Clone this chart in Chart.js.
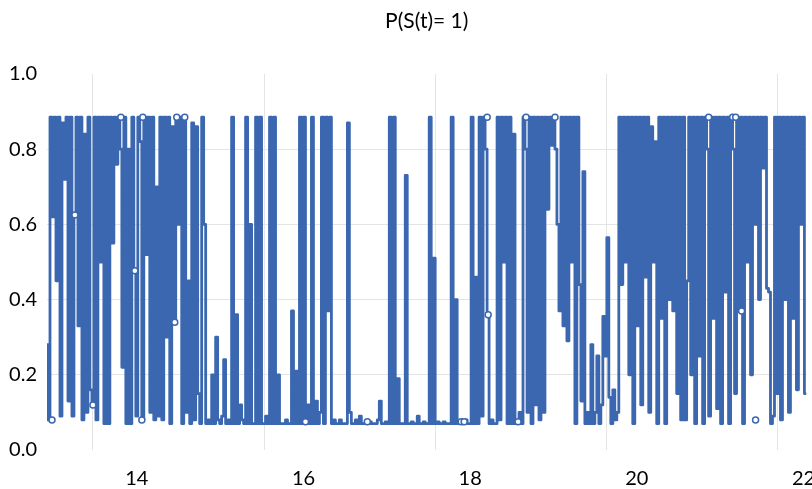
<!DOCTYPE html>
<html>
<head>
<meta charset="utf-8">
<script src="https://cdn.jsdelivr.net/npm/chart.js@4.4.1/dist/chart.umd.min.js"></script>
<style>
html,body{margin:0;padding:0;background:#fff;}
#wrap{width:812px;height:489px;}
</style>
</head>
<body>
<div id="wrap"><canvas id="c" width="812" height="489"></canvas></div>
<script>
// ---- data ----
const chartTitle = 'P(S(t)= 1)';
const timeStart = 12.922;     // first sample on the time axis
const timeStep = 0.02395;     // uniform sampling step
const xTickLabels = [14, 16, 18, 20, 22];
const xGridAt = [13.473, 15.527, 17.581, 19.635, 21.689];
const yTicks = [0, 0.2, 0.4, 0.6, 0.8, 1.0];

const probS1 = [
  0.28,0.08,0.885,0.62,0.885,0.45,0.885,0.09,0.87,0.72,
  0.885,0.13,0.885,0.09,0.625,0.885,0.33,0.885,0.08,0.84,
  0.1,0.885,0.16,0.12,0.885,0.08,0.885,0.5,0.885,0.07,
  0.885,0.07,0.885,0.55,0.885,0.76,0.885,0.8,0.22,0.885,
  0.07,0.8,0.07,0.885,0.477,0.09,0.885,0.82,0.08,0.885,
  0.52,0.885,0.1,0.885,0.08,0.7,0.09,0.885,0.08,0.885,
  0.3,0.885,0.07,0.86,0.34,0.885,0.6,0.885,0.07,0.885,
  0.1,0.45,0.07,0.87,0.08,0.86,0.15,0.07,0.885,0.6,
  0.07,0.08,0.07,0.2,0.07,0.3,0.08,0.07,0.09,0.24,
  0.07,0.08,0.07,0.885,0.07,0.36,0.07,0.12,0.08,0.07,
  0.885,0.07,0.6,0.07,0.07,0.885,0.07,0.885,0.07,0.07,
  0.09,0.07,0.885,0.07,0.885,0.07,0.2,0.07,0.07,0.07,
  0.08,0.07,0.07,0.37,0.07,0.21,0.07,0.885,0.07,0.885,
  0.07,0.12,0.07,0.885,0.07,0.13,0.07,0.1,0.885,0.07,
  0.885,0.37,0.885,0.07,0.08,0.07,0.07,0.08,0.07,0.07,
  0.07,0.87,0.1,0.07,0.07,0.08,0.07,0.09,0.07,0.07,
  0.07,0.07,0.075,0.07,0.07,0.07,0.08,0.13,0.07,0.07,
  0.075,0.07,0.885,0.07,0.885,0.07,0.19,0.07,0.07,0.07,
  0.73,0.07,0.07,0.075,0.07,0.07,0.09,0.07,0.07,0.075,
  0.07,0.07,0.885,0.07,0.51,0.07,0.075,0.07,0.07,0.075,
  0.07,0.07,0.07,0.885,0.07,0.4,0.07,0.07,0.07,0.07,
  0.08,0.07,0.07,0.885,0.07,0.46,0.07,0.885,0.09,0.885,
  0.8,0.36,0.07,0.08,0.07,0.07,0.885,0.08,0.885,0.5,
  0.885,0.07,0.885,0.07,0.84,0.07,0.07,0.1,0.07,0.885,
  0.8,0.1,0.885,0.07,0.885,0.12,0.885,0.08,0.885,0.1,
  0.885,0.64,0.885,0.81,0.885,0.8,0.6,0.37,0.885,0.33,
  0.885,0.29,0.885,0.5,0.885,0.07,0.885,0.44,0.13,0.74,
  0.07,0.1,0.07,0.28,0.07,0.1,0.25,0.07,0.12,0.355,
  0.25,0.565,0.14,0.07,0.16,0.08,0.1,0.885,0.44,0.885,
  0.5,0.885,0.2,0.885,0.07,0.885,0.33,0.885,0.12,0.885,
  0.46,0.885,0.1,0.86,0.5,0.82,0.07,0.885,0.35,0.885,
  0.07,0.885,0.4,0.885,0.37,0.885,0.15,0.885,0.08,0.885,
  0.08,0.45,0.885,0.2,0.885,0.07,0.885,0.25,0.885,0.07,
  0.885,0.8,0.09,0.885,0.35,0.885,0.11,0.885,0.07,0.885,
  0.42,0.885,0.07,0.885,0.8,0.15,0.885,0.37,0.885,0.07,
  0.885,0.5,0.885,0.2,0.885,0.6,0.885,0.4,0.885,0.75,
  0.885,0.43,0.42,0.07,0.09,0.885,0.15,0.885,0.08,0.885,
  0.4,0.885,0.1,0.885,0.35,0.885,0.16,0.885,0.6,0.885,0.15
];

// isolated visible circle markers
const markerTimes  = [12.982,13.257,13.473,13.808,13.976,14.072,14.060,14.455,14.479,14.575,
                      16.024,16.766,17.892,17.928,18.204,18.216,18.575,18.671,19.018,
                      20.862,21.150,21.186,21.257,21.425];
const markerValues = [0.08,0.625,0.12,0.885,0.477,0.885,0.08,0.34,0.885,0.885,
                      0.075,0.075,0.075,0.075,0.885,0.36,0.075,0.885,0.885,
                      0.885,0.885,0.885,0.37,0.08];

// ---- build ----
const times = probS1.map((_, i) => timeStart + i * timeStep);
const xMin = timeStart, xMax = 22.036;
const BLUE = '#3A67B0';
const GRID = '#e4e4e4';
const FONT = 'Lato, "Open Sans", sans-serif';

const titlePlugin = {
  id: 'centeredTitle',
  afterDraw(chart) {
    const a = chart.chartArea, ctx = chart.ctx;
    ctx.save();
    ctx.font = '21px ' + FONT;
    ctx.fillStyle = '#000';
    ctx.textAlign = 'center';
    ctx.textBaseline = 'middle';
    ctx.fillText(chartTitle, (a.left + a.right) / 2, 21);
    ctx.restore();
  }
};

new Chart(document.getElementById('c'), {
  type: 'line',
  data: {
    datasets: [
      {
        label: 'markers',
        data: markerTimes.map((t, i) => ({x: t, y: markerValues[i]})),
        showLine: false,
        pointRadius: 3,
        pointBackgroundColor: '#fff',
        pointBorderColor: BLUE,
        pointBorderWidth: 1.5,
        order: 0
      },
      {
        label: chartTitle,
        data: times.map((t, i) => ({x: t, y: probS1[i]})),
        borderColor: BLUE,
        borderWidth: 2.8,
        borderJoinStyle: 'round',
        borderCapStyle: 'round',
        stepped: 'middle',
        pointRadius: 0,
        fill: false,
        order: 1
      }
    ]
  },
  options: {
    responsive: false,
    animation: false,
    devicePixelRatio: 1,
    layout: { padding: { top: 74, right: 4, bottom: 0, left: 0 } },
    plugins: { legend: { display: false }, title: { display: false }, tooltip: { enabled: false } },
    scales: {
      x: {
        type: 'linear', position: 'bottom', min: xMin, max: xMax,
        grid: { display: false }, border: { display: false },
        afterBuildTicks: s => { s.ticks = xTickLabels.map(v => ({value: v})); },
        afterFit: s => { s.paddingLeft = 0; s.paddingRight = 0; s.height = 39; },
        ticks: { autoSkip: false, maxRotation: 0, padding: 9, color: '#000',
                 font: { family: FONT, size: 20 }, callback: v => String(v) }
      },
      xg: {
        type: 'linear', position: 'bottom', min: xMin, max: xMax,
        afterBuildTicks: s => { s.ticks = xGridAt.map(v => ({value: v})); },
        afterFit: s => { s.paddingLeft = 0; s.paddingRight = 0; s.height = 0; },
        ticks: { display: false },
        grid: { color: GRID, lineWidth: 1, drawTicks: false },
        border: { display: false }
      },
      y: {
        min: 0, max: 1,
        afterBuildTicks: s => { s.ticks = yTicks.map(v => ({value: v})); },
        afterFit: s => { s.width = 47; s.paddingTop = 0; s.paddingBottom = 0; },
        grid: {
          drawTicks: false, lineWidth: 1,
          color: c => (c.tick && c.tick.value > 0.01 && c.tick.value < 0.99) ? GRID : 'rgba(0,0,0,0)'
        },
        border: { display: false },
        ticks: { padding: 10, color: '#000', font: { family: FONT, size: 20 },
                 callback: v => Number(v).toFixed(1) }
      }
    }
  },
  plugins: [titlePlugin]
});
</script>
</body>
</html>
